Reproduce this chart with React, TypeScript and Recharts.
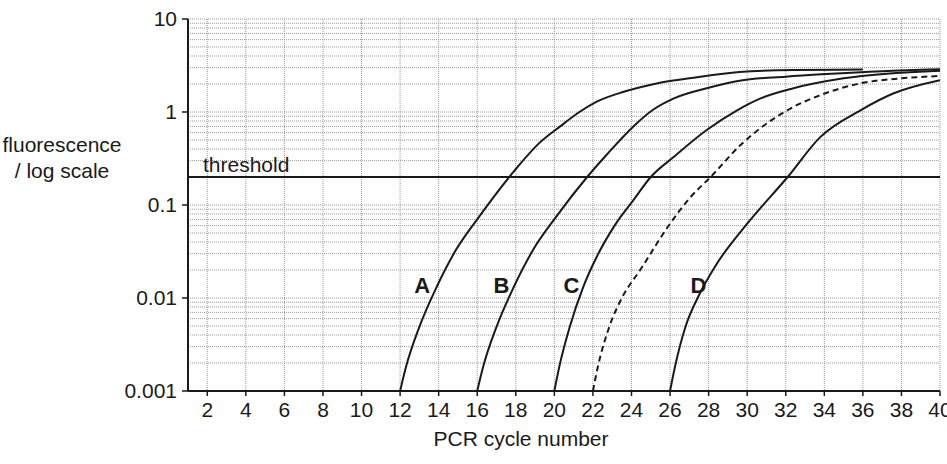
import {
  LineChart,
  Line,
  XAxis,
  YAxis,
  CartesianGrid,
  ReferenceLine,
  ReferenceDot,
  Label,
} from "recharts";

// axis ticks
const cycleTicks = [2, 4, 6, 8, 10, 12, 14, 16, 18, 20, 22, 24, 26, 28, 30, 32, 34, 36, 38, 40];
const fluorTicks = [0.001, 0.01, 0.1, 1, 10];
const fluorGrid = [
  0.001, 0.002, 0.003, 0.004, 0.005, 0.006, 0.007, 0.008, 0.009,
  0.01, 0.02, 0.03, 0.04, 0.05, 0.06, 0.07, 0.08, 0.09,
  0.1, 0.2, 0.3, 0.4, 0.5, 0.6, 0.7, 0.8, 0.9,
  1, 2, 3, 4, 5, 6, 7, 8, 9, 10,
];
const threshold = 0.2;

// curve A
const cyclesA = [12, 12.3, 13, 13.9, 14.9, 16.1, 17.9, 19.2, 20.3, 21.3, 22.2, 23.6, 25.3, 27, 29.6, 32.4, 36];
const fluorA = [0.001, 0.0018, 0.0049, 0.0132, 0.033, 0.075, 0.23, 0.46, 0.7, 1.0, 1.29, 1.65, 2.03, 2.3, 2.7, 2.83, 2.86];

// curve B
const cyclesB = [16, 16.3, 17, 17.9, 18.9, 20.1, 21.7, 22.7, 24.1, 25.1, 26.2, 27.9, 29.6, 32, 34.1, 37, 40];
const fluorB = [0.001, 0.0018, 0.0049, 0.0132, 0.033, 0.075, 0.2, 0.345, 0.7, 1.05, 1.4, 1.8, 2.17, 2.4, 2.56, 2.75, 2.88];

// curve C
const cyclesC = [20, 20.25, 20.8, 21.5, 22.2, 23.2, 24.1, 25.0, 26.2, 27.9, 29.5, 30.7, 32.4, 35, 40];
const fluorC = [0.001, 0.0018, 0.0049, 0.0132, 0.0278, 0.0635, 0.113, 0.2, 0.33, 0.64, 1.05, 1.4, 1.8, 2.3, 2.78];

// dashed curve (unlabelled)
const cyclesE = [22, 22.25, 22.85, 23.5, 24.45, 26.0, 27.0, 28.1, 29.7, 32.1, 33.8, 35.9, 38, 40];
const fluorE = [0.001, 0.0018, 0.0049, 0.01, 0.02, 0.063, 0.1175, 0.2, 0.45, 1.05, 1.52, 2.04, 2.3, 2.44];

// curve D
const cyclesD = [26, 26.25, 26.8, 27.5, 28.4, 30.0, 32.1, 33.8, 35.9, 37.6, 40];
const fluorD = [0.001, 0.0018, 0.0049, 0.0107, 0.0229, 0.063, 0.2, 0.54, 1.05, 1.59, 2.2];

// curve letters
const curveNames = ["A", "B", "C", "D"];
const nameCycles = [13.14, 17.25, 20.89, 27.47];
const nameFluor = 0.0136;

const toPoints = (cycles: number[], values: number[]) =>
  cycles.map((c, i) => ({ cycle: c, fluor: values[i] }));

const ink = "#1a1a1a";
const font = "'Liberation Sans', Arial, sans-serif";

export default function App() {
  const curves = [
    { key: "A", data: toPoints(cyclesA, fluorA), dash: undefined },
    { key: "B", data: toPoints(cyclesB, fluorB), dash: undefined },
    { key: "C", data: toPoints(cyclesC, fluorC), dash: undefined },
    { key: "E", data: toPoints(cyclesE, fluorE), dash: "6 4" },
    { key: "D", data: toPoints(cyclesD, fluorD), dash: undefined },
  ];

  return (
    <div style={{ position: "absolute", left: 0, top: 0, width: 947, height: 464, background: "#fff", fontFamily: font }}>
      <LineChart width={947} height={464} margin={{ top: 19, right: 7, bottom: 17, left: 0 }}>
        <CartesianGrid horizontal={false} stroke="#999" strokeDasharray="1 1" />
        {fluorGrid.map((v) => (
          <ReferenceLine key={v} y={v} stroke="#999" strokeDasharray="1 1" />
        ))}
        <XAxis
          type="number"
          dataKey="cycle"
          domain={[1, 40]}
          ticks={cycleTicks}
          interval={0}
          allowDataOverflow
          height={56}
          tickSize={5}
          tickMargin={6}
          axisLine={{ stroke: ink, strokeWidth: 2 }}
          tickLine={{ stroke: ink, strokeWidth: 1.5 }}
          tick={{ fill: ink, fontSize: 21, fontFamily: font }}
        >
          <Label value="PCR cycle number" position="insideBottom" offset={1} dx={-43} fill={ink} fontSize={21} fontFamily={font} />
        </XAxis>
        <YAxis
          scale="log"
          domain={[0.001, 10]}
          ticks={fluorTicks}
          interval={0}
          allowDataOverflow
          width={188}
          tickSize={6}
          tickMargin={5}
          axisLine={{ stroke: ink, strokeWidth: 2 }}
          tickLine={{ stroke: ink, strokeWidth: 1.5 }}
          tick={{ fill: ink, fontSize: 21, fontFamily: font }}
        >
          <Label
            content={() => (
              <text textAnchor="middle" fontSize={21} fill={ink} fontFamily={font}>
                <tspan x={62} y={152}>fluorescence</tspan>
                <tspan x={62} y={178}>/ log scale</tspan>
              </text>
            )}
          />
        </YAxis>
        <ReferenceLine
          y={threshold}
          stroke={ink}
          strokeWidth={2}
          label={{ value: "threshold", position: "insideBottomLeft", offset: 5, dx: 10, fill: ink, fontSize: 21, fontFamily: font }}
        />
        {curves.map((c) => (
          <Line
            key={c.key}
            data={c.data}
            dataKey="fluor"
            type="monotone"
            stroke={ink}
            strokeWidth={2}
            strokeDasharray={c.dash}
            dot={false}
            activeDot={false}
            isAnimationActive={false}
          />
        ))}
        {curveNames.map((name, i) => (
          <ReferenceDot
            key={name}
            x={nameCycles[i]}
            y={nameFluor}
            r={0}
            fill="none"
            stroke="none"
            label={{ value: name, position: "center", fill: ink, fontSize: 22, fontWeight: "bold", fontFamily: font }}
          />
        ))}
      </LineChart>
    </div>
  );
}
